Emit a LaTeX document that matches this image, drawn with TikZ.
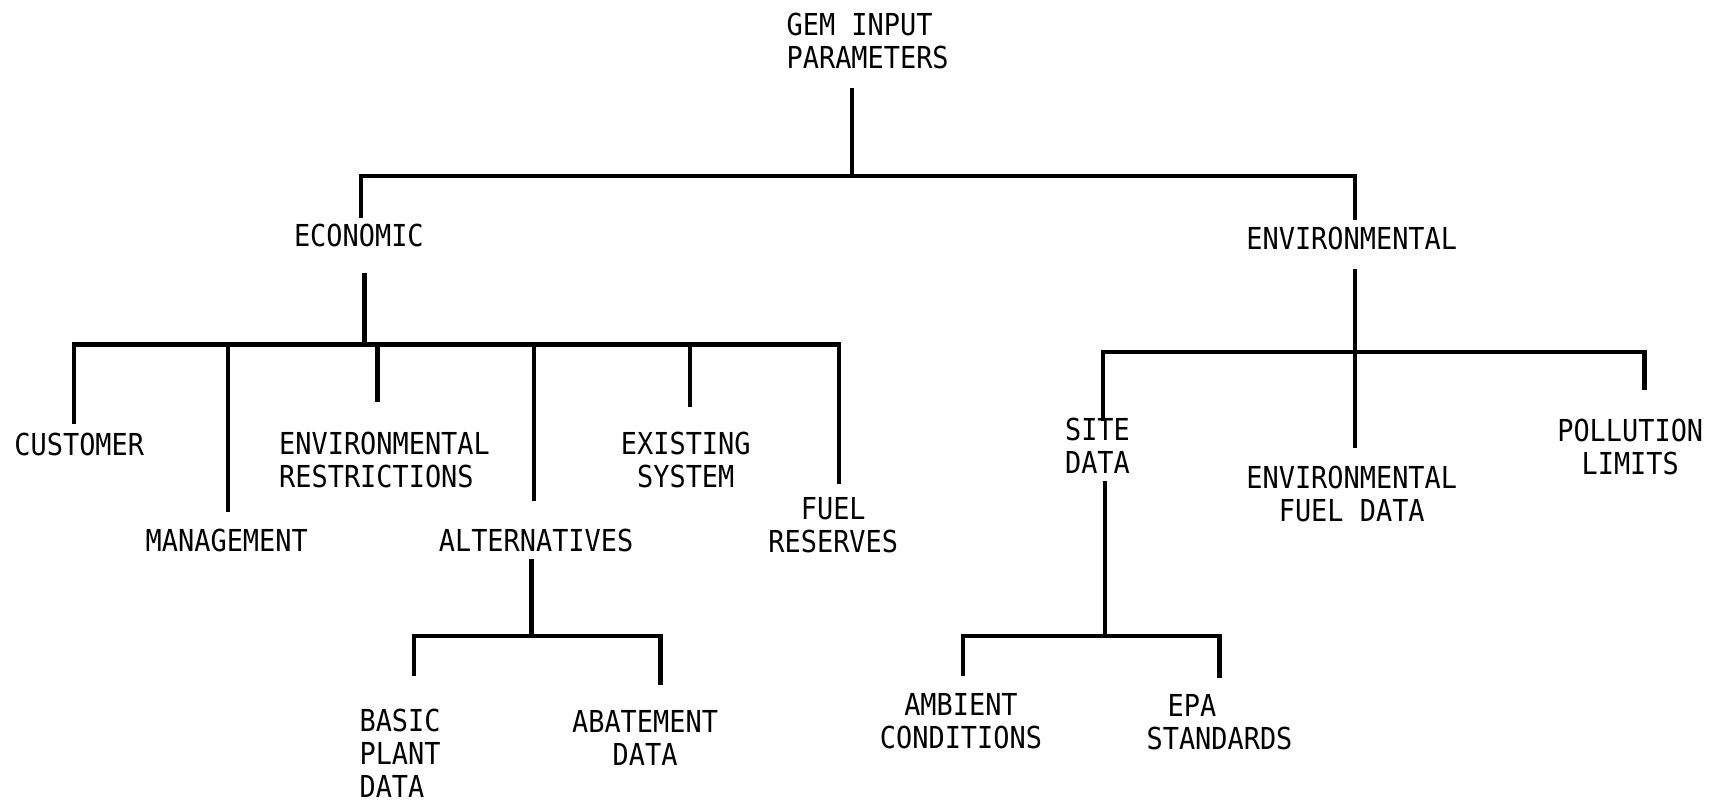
\documentclass[tikz,border=0pt]{standalone}
\usepackage{fontspec}
\newfontfamily\gemfont[FakeStretch=0.89]{DejaVu Sans Mono}
\usepackage{tikz}

\begin{document}
\begin{tikzpicture}[x=0.011008cm,y=-0.011008cm,
	lbl/.style={inner sep=0pt,align=center,font=\gemfont\fontsize{8.6}{9.4}\selectfont},
	lnk/.style={line width=1.25pt}]
	\useasboundingbox (0,0) rectangle (1568,729);
	\node[lbl,align=left,anchor=west] (1) at(714,37){GEM INPUT\\PARAMETERS};
	\node[lbl] (2) at(326,214){ECONOMIC};
	\node[lbl] (3) at(1228,217){ENVIRONMENTAL};
	\node[lbl] (4) at(72,404){CUSTOMER};
	\node[lbl] (5) at(206,491){MANAGEMENT};
	\node[lbl,align=left,anchor=west] (6) at(253,418){ENVIRONMENTAL\\RESTRICTIONS};
	\node[lbl] (7) at(487,491){ALTERNATIVES};
	\node[lbl] (8) at(623,418){EXISTING\\SYSTEM};
	\node[lbl] (9) at(757,477){FUEL\\RESERVES};
	\node[lbl,align=left,anchor=west] (10) at(326,684){BASIC\\PLANT\\DATA};
	\node[lbl] (11) at(586,670){ABATEMENT\\DATA};
	\node[lbl] (12) at(997,405){SITE\\DATA};
	\node[lbl] (13) at(1228,449){ENVIRONMENTAL\\FUEL DATA};
	\node[lbl] (14) at(1481,406){POLLUTION\\LIMITS};
	\node[lbl] (15) at(873,655){AMBIENT\\CONDITIONS};
	\node[lbl,align=left,anchor=west] (16) at(1041,656){\hspace{2.1mm}EPA\\STANDARDS};
	\coordinate (1b) at(774,80);
	\coordinate (2b) at(331,248);
	\coordinate (3b) at(1231,244);
	\coordinate (7b) at(483,508);
	\coordinate (12b) at(1004,437);
	\coordinate (2t) at(328,198);
	\coordinate (3t) at(1231,200);
	\coordinate (4t) at(67,385);
	\coordinate (5t) at(207,465);
	\coordinate (6t) at(343,365);
	\coordinate (7t) at(485,455);
	\coordinate (8t) at(627,370);
	\coordinate (9t) at(762,440);
	\coordinate (10t) at(376,614);
	\coordinate (11t) at(600,622);
	\coordinate (12t) at(1002,382);
	\coordinate (13t) at(1231,407);
	\coordinate (14t) at(1494,354);
	\coordinate (15t) at(875,614);
	\coordinate (16t) at(1108,616);
	\coordinate (j1) at(774,160);
	\coordinate (j2) at(331,313);
	\coordinate (j7) at(483,578);
	\coordinate (j3) at(1231,320);
	\coordinate (j12) at(1004,578);
	\draw[lnk] (1b) --(j1);
	\draw[lnk] (2t) |-(j1) -|(3t);
	\draw[lnk] (2b) --(j2);
	\draw[lnk] (4t) |-(j2) -|(9t);
	\draw[lnk] (5t) --(5t |- j2);
	\draw[lnk] (6t) --(6t |- j2);
	\draw[lnk] (7t) --(7t |- j2);
	\draw[lnk] (8t) --(8t |- j2);
	\draw[lnk] (7b) --(j7);
	\draw[lnk] (10t) |-(j7) -|(11t);
	\draw[lnk] (3b) --(13t);
	\draw[lnk] (12t) |-(j3) -|(14t);
	\draw[lnk] (12b) --(j12);
	\draw[lnk] (15t) |-(j12) -|(16t);
\end{tikzpicture}
\end{document}
